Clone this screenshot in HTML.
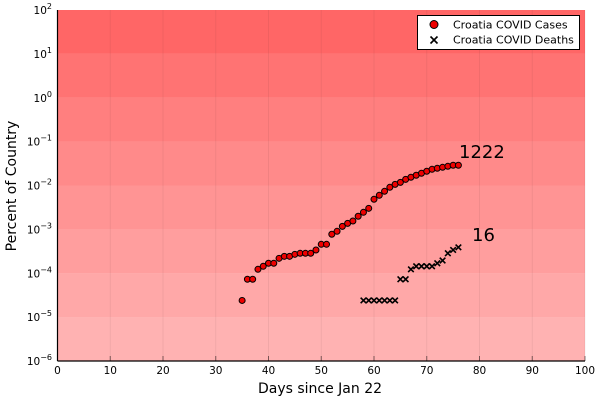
<!DOCTYPE html>
<html><head><meta charset="utf-8"><style>
body{margin:0;background:#fff;width:600px;height:400px;overflow:hidden}
svg{font-family:"DejaVu Sans","Liberation Sans",sans-serif}
</style></head><body>
<svg id="chart" width="600" height="400">
<g id="bands"></g>
<g id="grid"></g>
<g id="axes"></g>
<g id="marks"></g>
<text x="320" y="393" font-size="14" text-anchor="middle">Days since Jan 22</text>
<text transform="translate(16,186) rotate(-90)" font-size="14" text-anchor="middle">Percent of Country</text>
<g>
<rect x="417.5" y="15.5" width="162" height="34" fill="#fff" stroke="#000" stroke-width="1"/>
<circle cx="434" cy="24.5" r="4" fill="#e00" stroke="#000" stroke-width="1"/>
<text x="453" y="28.5" font-size="11">Croatia COVID Cases</text>
<path d="M430.5,36.5 l7,7 M437.5,36.5 l-7,7" stroke="#000" stroke-width="1.6"/>
<text x="453" y="43.5" font-size="11">Croatia COVID Deaths</text>
</g>
<text x="459" y="158" font-size="18">1222</text>
<text x="472" y="241" font-size="18">16</text>
</svg>
<script>
const caseDays=[35,36,37,38,39,40,41,42,43,44,45,46,47,48,49,50,51,52,53,54,55,56,57,58,59,60,61,62,63,64,65,66,67,68,69,70,71,72,73,74,75,76];
const caseValues=[2.4e-5,7.3e-5,7.3e-5,1.23e-4,1.44e-4,1.69e-4,1.69e-4,2.19e-4,2.43e-4,2.43e-4,2.7e-4,2.85e-4,2.85e-4,2.85e-4,3.39e-4,4.57e-4,4.57e-4,7.73e-4,9.04e-4,1.17e-3,1.37e-3,1.55e-3,1.99e-3,2.45e-3,3.02e-3,4.85e-3,5.98e-3,7.38e-3,9.1e-3,1.06e-2,1.18e-2,1.38e-2,1.54e-2,1.71e-2,1.9e-2,2.11e-2,2.34e-2,2.47e-2,2.6e-2,2.74e-2,2.89e-2,2.89e-2];
const deathDays=[58,59,60,61,62,63,64,65,66,67,68,69,70,71,72,73,74,75,76];
const deathValues=[2.4e-5,2.4e-5,2.4e-5,2.4e-5,2.4e-5,2.4e-5,2.4e-5,7.3e-5,7.3e-5,1.23e-4,1.44e-4,1.44e-4,1.44e-4,1.44e-4,1.69e-4,1.95e-4,2.85e-4,3.4e-4,3.9e-4];
const xTicks=[0,10,20,30,40,50,60,70,80,90,100];
const yExps=[-6,-5,-4,-3,-2,-1,0,1,2];
const bandAlphas=[0.3,0.34,0.38,0.42,0.46,0.5,0.55,0.6];

const X0=57.5,X1=585,Y0=361,Y1=10;
const xs=d=>X0+(d-0)/(100-0)*(X1-X0);
const ys=v=>Y0-(Math.log10(v)+6)/8*(Y0-Y1);
const ye=e=>Y0-(e+6)/8*(Y0-Y1);
const NS="http://www.w3.org/2000/svg";
function mk(tag,attrs,parent){const el=document.createElementNS(NS,tag);for(const k in attrs)el.setAttribute(k,attrs[k]);document.getElementById(parent).appendChild(el);return el;}

for(let i=0;i<8;i++){
 const el=mk('rect',{x:X0,y:ye(i-5),width:X1-X0,height:ye(i-6)-ye(i-5),fill:'#ff0000','fill-opacity':bandAlphas[i]},'bands');
 
 
}
xTicks.forEach(t=>{
 const g=mk('line',{x1:xs(t),x2:xs(t),y1:Y1,y2:Y0,stroke:'#000','stroke-opacity':0.06},'grid');
 
 
 const tk=mk('line',{x1:xs(t),x2:xs(t),y1:Y0,y2:Y0-5,stroke:'#000','stroke-opacity':0.5},'axes');
 
 
 const tx=mk('text',{x:xs(t),y:Y0+13,'font-size':10.5,'text-anchor':'middle'},'axes');
 tx.textContent=t;
 
 
});
yExps.forEach(e=>{
 const tx=mk('text',{x:52,y:ye(e)+4,'font-size':10.5,'text-anchor':'end'},'axes');
 tx.textContent='10';
 const sp=document.createElementNS(NS,'tspan');
 sp.setAttribute('dy','-5');sp.setAttribute('font-size','8');
 sp.textContent=e<0?'\u2212'+(-e):String(e);
 tx.appendChild(sp);
 
 
});
let a=mk('line',{x1:X0,x2:X1,y1:Y0,y2:Y0,stroke:'#000','stroke-width':1.2},'axes');


a=mk('line',{x1:X0,x2:X0,y1:Y0,y2:Y1,stroke:'#000','stroke-width':1.2},'axes');



caseDays.forEach((d,i)=>{
 const c=mk('circle',{cx:xs(d),cy:ys(caseValues[i]),r:3,fill:'#e00',stroke:'#000','stroke-width':1},'marks');
 
 
});
deathDays.forEach((d,i)=>{
 const x=xs(d),y=ys(deathValues[i]);
 const p=mk('path',{d:`M${x-2.8},${y-2.8}L${x+2.8},${y+2.8}M${x+2.8},${y-2.8}L${x-2.8},${y+2.8}`,stroke:'#000','stroke-width':1.6},'marks');
 
 
});
</script>
</body></html>
